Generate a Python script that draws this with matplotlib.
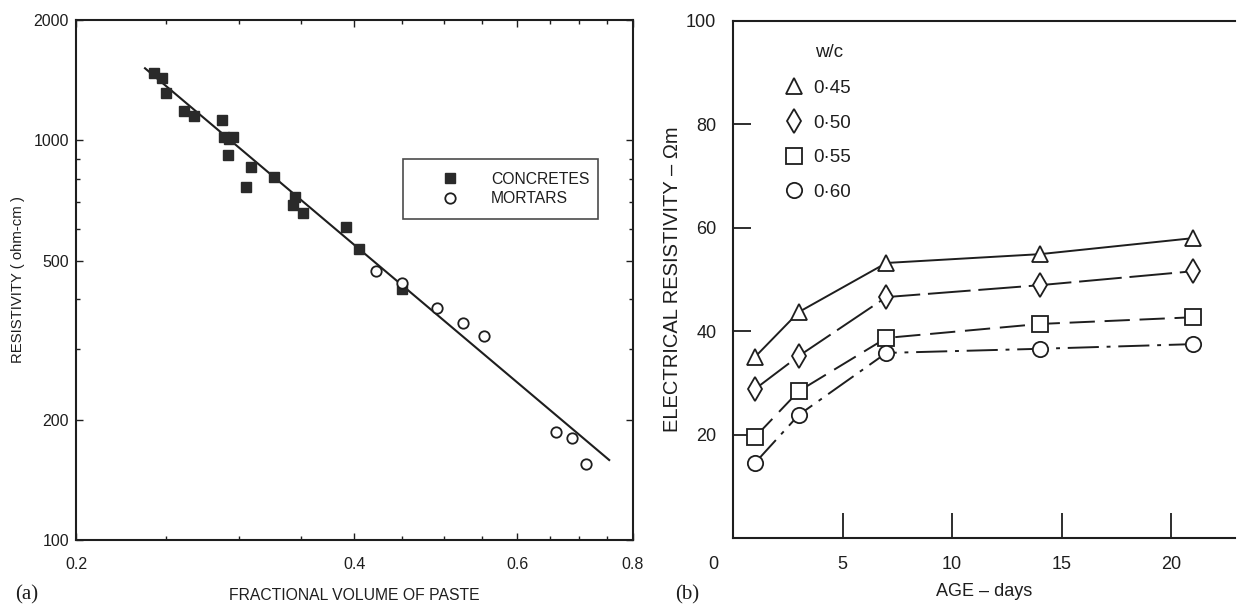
import numpy as np
import matplotlib
matplotlib.use("Agg")
import matplotlib.pyplot as plt
from matplotlib.ticker import FixedLocator, NullFormatter, LogLocator

plt.rcParams['font.family'] = ['Liberation Sans', 'DejaVu Sans']

#### data, panel (a): resistivity vs fractional volume of paste (log-log)
concrete_x = [0.243, 0.248, 0.250, 0.262, 0.268, 0.288, 0.289, 0.293, 0.296, 0.292,
              0.309, 0.305, 0.327, 0.345, 0.343, 0.352, 0.392, 0.405, 0.450]
concrete_y = [1471, 1429, 1311, 1182, 1148, 1122, 1017, 1006, 1017, 917,
              856, 763, 808, 720, 688, 657, 606, 534, 424]
mortar_x = [0.422, 0.450, 0.491, 0.524, 0.552, 0.661, 0.687, 0.712]
mortar_y = [470, 439, 380, 349, 324, 186, 180, 155]
fit_x = [0.2375, 0.754]
fit_y = [1514, 158.5]

#### data, panel (b): electrical resistivity vs age
age_days = [1, 3, 7, 14, 21]
wc_labels = ['0·45', '0·50', '0·55', '0·60']
res_045 = [35.0, 43.7, 53.2, 54.9, 58.0]
res_050 = [28.8, 35.2, 46.6, 48.9, 51.6]
res_055 = [19.5, 28.4, 38.7, 41.4, 42.7]
res_060 = [14.5, 23.8, 35.8, 36.6, 37.5]

ink = '#1e1e1e'

fig = plt.figure(figsize=(12.39, 6.10), dpi=100)

# ---------------- panel (a)
ax1 = fig.add_axes([0.0613, 0.1148, 0.4496, 0.8525])
ax1.set_xscale('log')
ax1.set_yscale('log')
ax1.plot(fit_x, fit_y, color=ink, lw=1.5, zorder=2)
ax1.plot(concrete_x, concrete_y, ls='none', marker='s', ms=6.5, color='#2a2a2a',
         mec='#2a2a2a', label='CONCRETES', zorder=3)
ax1.plot(mortar_x, mortar_y, ls='none', marker='o', ms=7.5, mfc='white', mec=ink,
         mew=1.3, label='MORTARS', zorder=3)
ax1.set_xlim(0.2, 0.8)
ax1.set_ylim(100, 2000)

ax1.xaxis.set_major_locator(FixedLocator([0.2, 0.4, 0.6, 0.8]))
ax1.set_xticklabels(['0.2', '0.4', '0.6', '0.8'])
ax1.xaxis.set_minor_locator(FixedLocator(np.arange(0.25, 0.79, 0.05)))
ax1.xaxis.set_minor_formatter(NullFormatter())
ax1.yaxis.set_major_locator(FixedLocator([100, 200, 500, 1000, 2000]))
ax1.set_yticklabels(['100', '200', '500', '1000', '2000'])
ax1.yaxis.set_minor_locator(LogLocator(subs=range(2, 10)))
ax1.yaxis.set_minor_formatter(NullFormatter())
ax1.tick_params(which='both', direction='in', top=True, right=True, colors=ink,
                labelsize=11.5, width=1.0)
ax1.tick_params(which='major', length=5)
ax1.tick_params(which='minor', length=3)
ax1.tick_params(axis='x', pad=12)
ax1.tick_params(axis='y', pad=5)
for s in ax1.spines.values():
    s.set_linewidth(1.5)
    s.set_color(ink)

ax1.set_xlabel('FRACTIONAL VOLUME OF PASTE', fontsize=11.3, color=ink, labelpad=12)
ax1.set_ylabel('RESISTIVITY ( ohm-cm )', fontsize=10.7, color=ink, labelpad=6)

leg1 = ax1.legend(loc='upper left', bbox_to_anchor=(0.587, 0.619, 0.35, 0.114),
                  mode='expand', fontsize=11.3, frameon=True, fancybox=False,
                  borderpad=0.81, handlelength=4.4, handletextpad=0.4,
                  labelspacing=0.29, borderaxespad=0)
leg1.get_frame().set_edgecolor(ink)
leg1.get_frame().set_linewidth(1.2)
for t in leg1.get_texts():
    t.set_color(ink)

fig.text(27 / 1239, 1 - 595 / 610, '(a)', family=['Liberation Serif', 'DejaVu Serif'],
         fontsize=15, ha='center', va='center', color=ink)

# ---------------- panel (b)
ax2 = fig.add_axes([0.5916, 0.118, 0.405, 0.8476])
series = [res_045, res_050, res_055, res_060]
markers = ['^', 'd', 's', 'o']
sizes = [11, 12, 12, 11]
dashes = [(None, None), (22, 4), (13, 5), (16, 4, 2, 4)]
for vals, lab, mk, ms, dsh in zip(series, wc_labels, markers, sizes, dashes):
    line, = ax2.plot(age_days, vals, color=ink, lw=1.4, marker=mk, ms=ms,
                     mfc='white', mec=ink, mew=1.3, label=lab)
    if dsh[0] is not None:
        line.set_dashes(dsh)

ax2.set_xlim(0, 22.9)
ax2.set_ylim(0, 100)
ax2.set_xticks([5, 10, 15, 20])
ax2.set_yticks([20, 40, 60, 80, 100])
ax2.spines['right'].set_visible(False)
for s in ['left', 'top', 'bottom']:
    ax2.spines[s].set_linewidth(1.5)
    ax2.spines[s].set_color(ink)
ax2.tick_params(axis='x', direction='in', length=18, width=1.3, pad=13,
                labelsize=13, colors=ink)
ax2.tick_params(axis='y', direction='in', length=13, width=1.3, pad=12,
                labelsize=13, colors=ink)
ax2.text(-0.04, -0.052, '0', transform=ax2.transAxes, ha='center', va='center',
         fontsize=13, color=ink)

ax2.set_xlabel('AGE – days', fontsize=13, color=ink, labelpad=7)
ax2.set_ylabel('ELECTRICAL RESISTIVITY – Ωm', fontsize=14.5, color=ink, labelpad=3)

ax2.text(0.163, 0.940, 'w/c', transform=ax2.transAxes, ha='left', va='center',
         fontsize=13.5, color=ink)
leg2 = ax2.legend(loc='upper left', bbox_to_anchor=(0.105, 0.886), frameon=False,
                  fontsize=13.5, borderpad=0, borderaxespad=0, handlelength=0.85,
                  handletextpad=0.6, labelspacing=0.93)
for h in leg2.legend_handles:
    h.set_linestyle('none')
for t in leg2.get_texts():
    t.set_color(ink)

fig.text(687 / 1239, 1 - 595 / 610, '(b)', family=['Liberation Serif', 'DejaVu Serif'],
         fontsize=15, ha='center', va='center', color=ink)

fig.savefig('out.png', dpi=100, facecolor='white')
